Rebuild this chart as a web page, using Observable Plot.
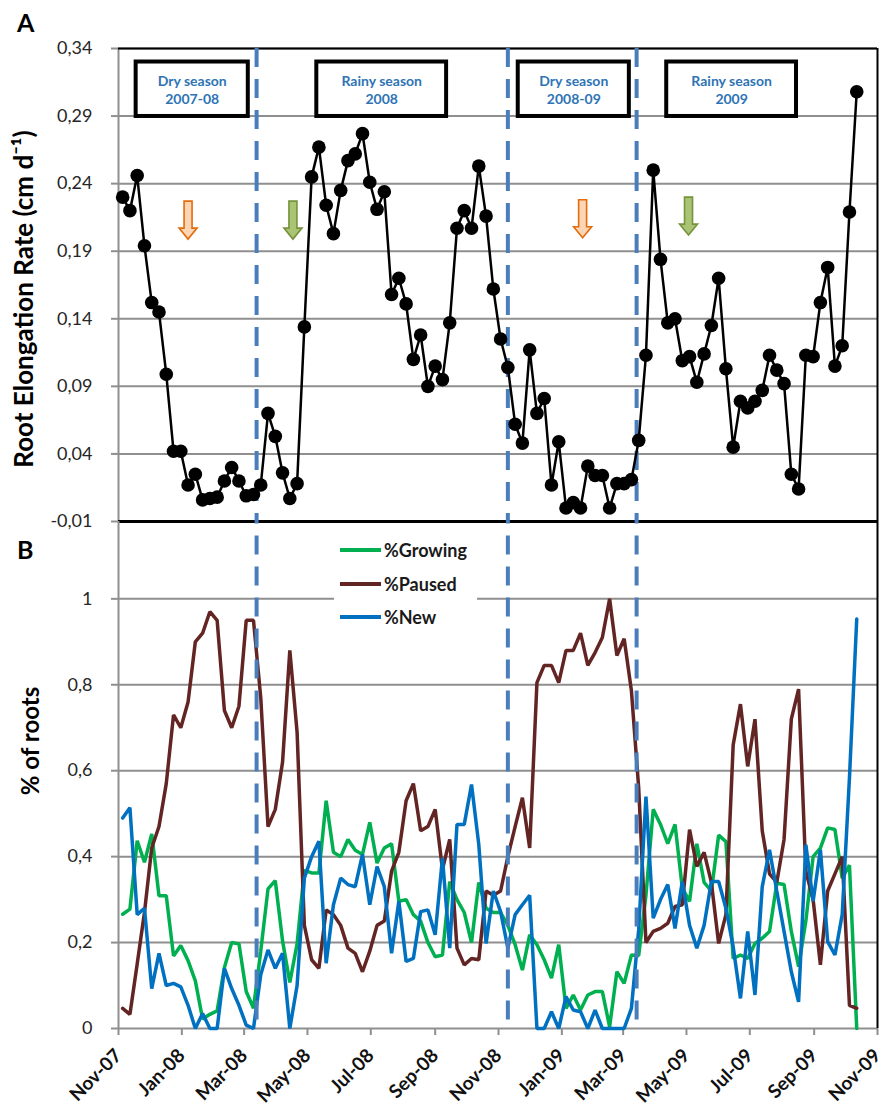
<!DOCTYPE html>
<html><head><meta charset="utf-8">
<script src="https://cdn.jsdelivr.net/npm/d3@7"></script>
<script src="https://cdn.jsdelivr.net/npm/@observablehq/plot@0.6"></script>
<style>
body{margin:0;background:#fff;}
#fig{position:relative;width:892px;height:1113px;overflow:hidden;font-family:Lato,sans-serif;background:#fff;}
#fig svg{position:absolute;left:0;overflow:visible;}
.panel{position:absolute;font-weight:bold;font-size:25px;color:#000;line-height:1;}
#legend{position:absolute;left:334px;top:531px;width:143px;height:99px;background:#fff;}
.lg{position:absolute;left:6px;height:20px;font-weight:bold;font-size:18px;color:#1a1a1a;white-space:nowrap;}
.lg span.sw{display:inline-block;width:41px;height:4px;vertical-align:middle;margin-right:3px;position:relative;top:-2px;}
</style></head><body><div id="fig"></div>
<script>
// ---------- data ----------
const dates = ["2007-11-05","2007-11-12","2007-11-19","2007-11-26","2007-12-03","2007-12-10","2007-12-17","2007-12-24","2007-12-31","2008-01-07","2008-01-14","2008-01-21","2008-01-28","2008-02-04","2008-02-11","2008-02-18","2008-02-25","2008-03-03","2008-03-10","2008-03-17","2008-03-24","2008-03-31","2008-04-07","2008-04-14","2008-04-21","2008-04-28","2008-05-05","2008-05-12","2008-05-19","2008-05-26","2008-06-02","2008-06-09","2008-06-16","2008-06-23","2008-06-30","2008-07-07","2008-07-14","2008-07-21","2008-07-28","2008-08-04","2008-08-11","2008-08-18","2008-08-25","2008-09-01","2008-09-08","2008-09-15","2008-09-22","2008-09-29","2008-10-06","2008-10-13","2008-10-20","2008-10-27","2008-11-03","2008-11-10","2008-11-17","2008-11-24","2008-12-01","2008-12-08","2008-12-15","2008-12-22","2008-12-29","2009-01-05","2009-01-12","2009-01-19","2009-01-26","2009-02-02","2009-02-09","2009-02-16","2009-02-23","2009-03-02","2009-03-09","2009-03-16","2009-03-23","2009-03-30","2009-04-06","2009-04-13","2009-04-20","2009-04-27","2009-05-04","2009-05-11","2009-05-18","2009-05-25","2009-06-01","2009-06-08","2009-06-15","2009-06-22","2009-06-29","2009-07-06","2009-07-13","2009-07-20","2009-07-27","2009-08-03","2009-08-10","2009-08-17","2009-08-24","2009-08-31","2009-09-07","2009-09-14","2009-09-21","2009-09-28","2009-10-05","2009-10-12"];

const rate = [0.230,0.220,0.246,0.194,0.152,0.145,0.099,0.042,0.042,0.017,0.025,0.006,0.007,0.008,0.020,0.030,0.020,0.009,0.010,0.017,0.070,0.053,0.026,0.007,0.018,0.134,0.245,0.267,0.224,0.203,0.235,0.257,0.262,0.277,0.241,0.221,0.234,0.158,0.170,0.151,0.110,0.128,0.090,0.105,0.095,0.137,0.207,0.220,0.207,0.253,0.216,0.162,0.125,0.104,0.062,0.048,0.117,0.070,0.081,0.017,0.049,0.000,0.004,0.000,0.031,0.024,0.024,0.000,0.018,0.018,0.021,0.050,0.113,0.250,0.184,0.137,0.140,0.109,0.112,0.093,0.114,0.135,0.170,0.103,0.045,0.079,0.074,0.079,0.087,0.113,0.102,0.092,0.025,0.014,0.113,0.112,0.152,0.178,0.105,0.120,0.219,0.308];

const growing = [0.266,0.278,0.437,0.387,0.453,0.309,0.309,0.169,0.193,0.158,0.111,0.022,0.033,0.041,0.142,0.200,0.197,0.086,0.047,0.180,0.325,0.344,0.204,0.107,0.197,0.368,0.362,0.362,0.530,0.410,0.400,0.440,0.415,0.405,0.480,0.385,0.420,0.430,0.296,0.300,0.265,0.250,0.200,0.167,0.171,0.342,0.300,0.270,0.200,0.340,0.280,0.270,0.270,0.240,0.195,0.136,0.218,0.195,0.160,0.117,0.195,0.047,0.078,0.043,0.078,0.086,0.086,0.004,0.132,0.105,0.171,0.170,0.310,0.510,0.475,0.430,0.475,0.327,0.296,0.430,0.340,0.320,0.450,0.435,0.163,0.171,0.163,0.198,0.210,0.226,0.338,0.335,0.226,0.144,0.250,0.400,0.420,0.467,0.463,0.350,0.380,0.000];

const paused = [0.047,0.033,0.150,0.270,0.420,0.470,0.570,0.730,0.700,0.760,0.900,0.920,0.970,0.950,0.740,0.700,0.750,0.950,0.950,0.770,0.470,0.510,0.620,0.880,0.690,0.240,0.160,0.140,0.276,0.265,0.240,0.187,0.175,0.132,0.180,0.240,0.250,0.366,0.410,0.530,0.570,0.460,0.470,0.510,0.370,0.440,0.187,0.148,0.163,0.160,0.320,0.310,0.320,0.400,0.470,0.537,0.420,0.805,0.845,0.845,0.805,0.880,0.880,0.920,0.845,0.875,0.910,1.000,0.868,0.907,0.786,0.560,0.200,0.226,0.233,0.245,0.284,0.288,0.463,0.377,0.410,0.340,0.198,0.265,0.660,0.755,0.610,0.720,0.460,0.360,0.340,0.440,0.720,0.790,0.366,0.300,0.148,0.320,0.360,0.400,0.054,0.047];

const newRoots = [0.490,0.514,0.265,0.280,0.093,0.175,0.100,0.105,0.097,0.054,0.000,0.035,0.000,0.000,0.140,0.093,0.054,0.008,0.000,0.125,0.183,0.140,0.175,0.000,0.100,0.350,0.400,0.436,0.152,0.288,0.350,0.335,0.330,0.405,0.288,0.377,0.330,0.175,0.296,0.156,0.163,0.272,0.276,0.218,0.397,0.187,0.475,0.475,0.568,0.428,0.198,0.320,0.272,0.187,0.265,0.288,0.310,0.000,0.000,0.039,0.000,0.074,0.043,0.039,0.000,0.043,0.000,0.000,0.000,0.000,0.047,0.230,0.540,0.257,0.300,0.335,0.233,0.342,0.240,0.187,0.240,0.342,0.342,0.280,0.190,0.070,0.226,0.078,0.330,0.416,0.320,0.226,0.132,0.062,0.428,0.296,0.416,0.202,0.171,0.265,0.584,0.953];

const yTicksA = [-0.01, 0.04, 0.09, 0.14, 0.19, 0.24, 0.29, 0.34];
const yTicksB = [0, 0.2, 0.4, 0.6, 0.8, 1];
const xTickDates = ["2007-11-01","2008-01-01","2008-03-01","2008-05-01","2008-07-01","2008-09-01","2008-11-01","2009-01-01","2009-03-01","2009-05-01","2009-07-01","2009-09-01","2009-11-01"];
const xDomainDates = ["2007-11-01","2009-11-01"];

const seasonLabels = ["Dry season\n2007-08","Rainy season\n2008","Dry season\n2008-09","Rainy season\n2009"];
const seasonStart = ["2007-11-18","2008-05-10","2008-11-20","2009-04-12"];
const seasonEnd = ["2008-03-05","2008-09-12","2009-03-07","2009-08-15"];
const seasonBoxBottom = 0.2897, seasonBoxTop = 0.3300, seasonTextY = 0.3097;

const boundaries = ["2008-03-13","2008-11-10","2009-03-14"];

const arrowDates = ["2008-01-07","2008-04-17","2009-01-21","2009-05-03"];
const arrowValues = [0.213, 0.213, 0.214, 0.216];
const arrowKinds = ["dry","rainy","dry","rainy"];

const seriesNames = ["%Growing","%Paused","%New"];
const seriesColors = ["#00b050","#632523","#0070c0"];

const labelA = "Root Elongation Rate (cm d\u207B\u00B9)";
const labelB = "% of roots";

// ---------- build ----------
const parse = d3.utcParse("%Y-%m-%d");
const rowsA = dates.map((d, i) => ({date: parse(d), rate: rate[i]}));
const series = [growing, paused, newRoots];
const rowsB = [];
series.forEach((vals, s) => vals.forEach((v, i) => rowsB.push({date: parse(dates[i]), value: v, name: seriesNames[s]})));
const xDomain = xDomainDates.map(parse);
const xTicks = xTickDates.map(parse);
const seasons = seasonLabels.map((l, i) => ({label: l, x1: parse(seasonStart[i]), x2: parse(seasonEnd[i])}));
const arrows = arrowDates.map((d, i) => ({date: parse(d), value: arrowValues[i], kind: arrowKinds[i]}));
const bounds = boundaries.map(parse);

const fmtA = d => d.toFixed(2).replace(".", ",");
const fmtB = d => String(d).replace(".", ",");

const arrowSymbol = {
  draw(ctx) {
    ctx.moveTo(-4, -19); ctx.lineTo(4, -19); ctx.lineTo(4, 8);
    ctx.lineTo(9, 8); ctx.lineTo(0, 19); ctx.lineTo(-9, 8);
    ctx.lineTo(-4, 8); ctx.closePath();
  }
};

const gridColor = "#8f8f8f";
const baseStyle = {fontFamily: "Lato, sans-serif", fontSize: "18px", color: "#262626", background: "transparent", overflow: "visible"};

const plotA = Plot.plot({
  width: 892, height: 530,
  marginLeft: 118, marginRight: 15, marginTop: 48, marginBottom: 9,
  style: baseStyle,
  x: {type: "utc", domain: xDomain, axis: null},
  y: {domain: [-0.01, 0.34], axis: null},
  marks: [
    Plot.ruleY(yTicksA.slice(1), {stroke: gridColor, strokeWidth: 2}),
    Plot.axisY(yTicksA, {tickFormat: fmtA, tickSize: 7, tickPadding: 19, stroke: gridColor, strokeWidth: 2, fill: "#262626", fontSize: 18, label: null}),
    Plot.ruleX([xDomain[0]], {stroke: gridColor, strokeWidth: 2}),
    Plot.ruleY([0.34], {stroke: "#000", strokeWidth: 2}),
    Plot.ruleX([xDomain[1]], {stroke: "#000", strokeWidth: 2}),
    Plot.ruleY([-0.01], {stroke: "#000", strokeWidth: 3}),
    Plot.ruleX(bounds, {stroke: "#4a7ebb", strokeWidth: 4, strokeDasharray: "19,12"}),
    Plot.rect(seasons, {x1: "x1", x2: "x2", y1: seasonBoxBottom, y2: seasonBoxTop, fill: "#fff", stroke: "#000", strokeWidth: 4}),
    Plot.text(seasons, {x: d => new Date((+d.x1 + +d.x2) / 2), y: seasonTextY, text: "label", fill: "#2e74b5", fontSize: 14, fontWeight: "bold", lineHeight: 1.3}),
    Plot.dot(arrows.filter(d => d.kind === "dry"), {x: "date", y: "value", symbol: arrowSymbol, r: 10, fill: "#fcd5b5", stroke: "#e46c0a", strokeWidth: 1.6}),
    Plot.dot(arrows.filter(d => d.kind === "rainy"), {x: "date", y: "value", symbol: arrowSymbol, r: 10, fill: "#a9c574", stroke: "#76923c", strokeWidth: 1.6}),
    Plot.line(rowsA, {x: "date", y: "rate", stroke: "#000", strokeWidth: 2.5}),
    Plot.dot(rowsA, {x: "date", y: "rate", r: 6.8, fill: "#000"}),
    Plot.text([labelA], {frameAnchor: "left", textAnchor: "middle", text: d => d, rotate: -90, dx: -94, dy: 14, fontSize: 26, fontWeight: "bold", fill: "#000"})
  ]
});
plotA.style.top = "0px";

const plotB = Plot.plot({
  width: 892, height: 592,
  marginLeft: 118, marginRight: 15, marginTop: 0, marginBottom: 85,
  style: baseStyle,
  x: {type: "utc", domain: xDomain, axis: null},
  y: {domain: [0, 1.18], axis: null},
  marks: [
    Plot.ruleY(yTicksB.slice(1), {stroke: gridColor, strokeWidth: 2}),
    Plot.axisY(yTicksB, {tickFormat: fmtB, tickSize: 7, tickPadding: 19, stroke: gridColor, strokeWidth: 2, fill: "#262626", fontSize: 18, label: null}),
    Plot.axisX(xTicks, {tickFormat: d3.utcFormat("%b-%y"), tickRotate: -45, tickSize: 7, tickPadding: 17, stroke: gridColor, strokeWidth: 2, fill: "#111", fontSize: 19, fontWeight: "bold", label: null}),
    Plot.ruleY([0], {stroke: gridColor, strokeWidth: 2}),
    Plot.ruleX([xDomain[0]], {stroke: gridColor, strokeWidth: 2}),
    Plot.ruleX([xDomain[1]], {stroke: "#000", strokeWidth: 2}),
    Plot.line(rowsB, {x: "date", y: "value", z: "name", stroke: d => seriesColors[seriesNames.indexOf(d.name)], strokeWidth: 3.5, strokeLinejoin: "miter"}),
    Plot.ruleX(bounds, {y1: 0.02, y2: 1.18, stroke: "#4a7ebb", strokeWidth: 4, strokeDasharray: "19,12"}),
    Plot.text([labelB], {frameAnchor: "left", textAnchor: "middle", text: d => d, rotate: -90, dx: -87, dy: -34, fontSize: 24, fontWeight: "bold", fill: "#000"})
  ]
});
plotB.style.top = "521px";

const fig = document.getElementById("fig");
fig.appendChild(plotA);
fig.appendChild(plotB);

const pa = document.createElement("div"); pa.className = "panel"; pa.textContent = "A"; pa.style.left = "17px"; pa.style.top = "10px"; fig.appendChild(pa);
const pb = document.createElement("div"); pb.className = "panel"; pb.textContent = "B"; pb.style.left = "17px"; pb.style.top = "537px"; fig.appendChild(pb);

const legend = document.createElement("div"); legend.id = "legend";
const legendTops = [8, 42, 75];
seriesNames.forEach((n, i) => {
  const row = document.createElement("div"); row.className = "lg"; row.style.top = legendTops[i] + "px";
  const sw = document.createElement("span"); sw.className = "sw"; sw.style.background = seriesColors[i];
  row.appendChild(sw); row.appendChild(document.createTextNode(n));
  legend.appendChild(row);
});
fig.appendChild(legend);
</script></body></html>
